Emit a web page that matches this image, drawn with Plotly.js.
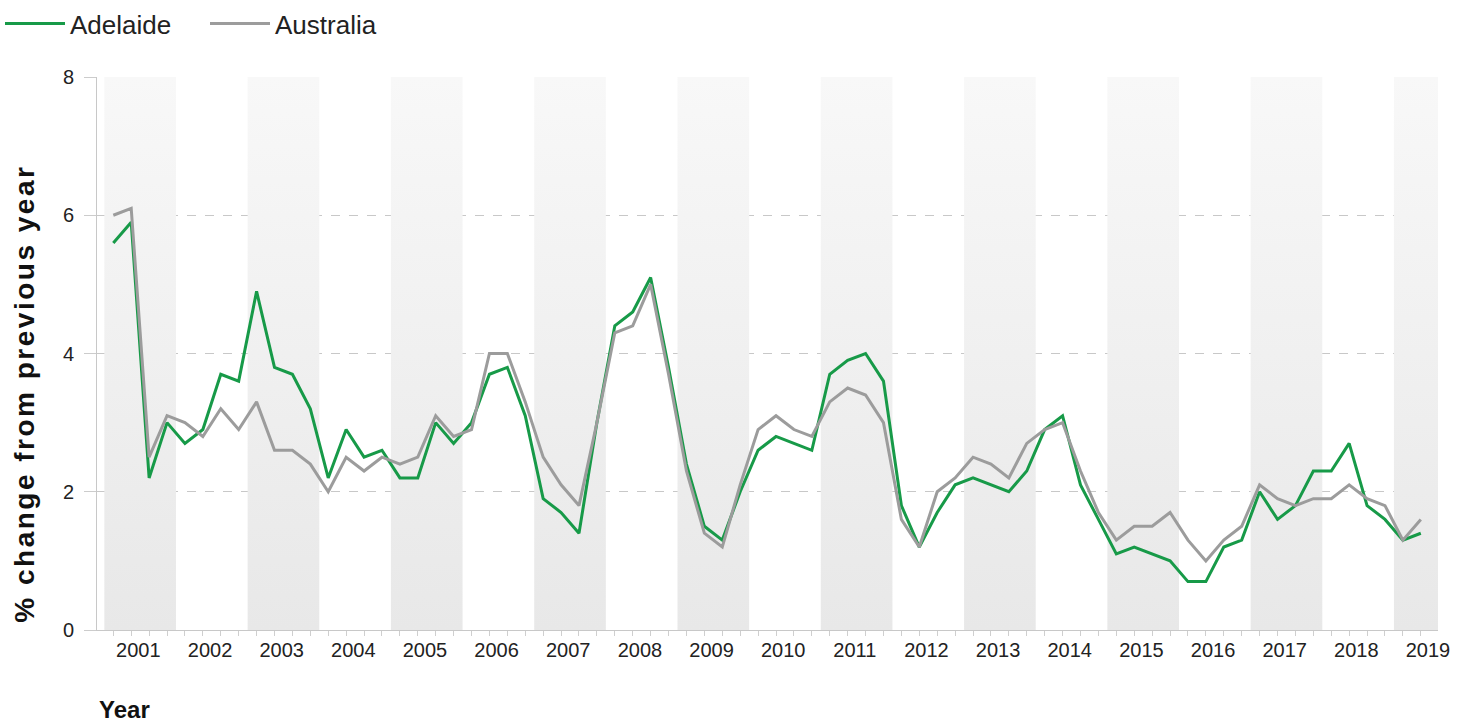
<!DOCTYPE html>
<html>
<head>
<meta charset="utf-8">
<script src="https://cdn.plot.ly/plotly-3.0.1.min.js"></script>
<style>
html,body{margin:0;padding:0;background:#fff;}
#chart{width:1471px;height:722px;}
</style>
</head>
<body>
<div id="chart"></div>
<script>
// Year labels (calendar years, quarterly data Mar 2001 - Jun 2019)
const years = ['2001','2002','2003','2004','2005','2006','2007','2008','2009','2010',
               '2011','2012','2013','2014','2015','2016','2017','2018','2019'];

// Annual % change in CPI, quarterly observations
const adelaide = [
  5.6, 5.9, 2.2, 3.0,
  2.7, 2.9, 3.7, 3.6,
  4.9, 3.8, 3.7, 3.2,
  2.2, 2.9, 2.5, 2.6,
  2.2, 2.2, 3.0, 2.7,
  3.0, 3.7, 3.8, 3.1,
  1.9, 1.7, 1.4, 3.0,
  4.4, 4.6, 5.1, 3.8,
  2.4, 1.5, 1.3, 2.0,
  2.6, 2.8, 2.7, 2.6,
  3.7, 3.9, 4.0, 3.6,
  1.8, 1.2, 1.7, 2.1,
  2.2, 2.1, 2.0, 2.3,
  2.9, 3.1, 2.1, 1.6,
  1.1, 1.2, 1.1, 1.0,
  0.7, 0.7, 1.2, 1.3,
  2.0, 1.6, 1.8, 2.3,
  2.3, 2.7, 1.8, 1.6,
  1.3, 1.4
];
const australia = [
  6.0, 6.1, 2.5, 3.1,
  3.0, 2.8, 3.2, 2.9,
  3.3, 2.6, 2.6, 2.4,
  2.0, 2.5, 2.3, 2.5,
  2.4, 2.5, 3.1, 2.8,
  2.9, 4.0, 4.0, 3.3,
  2.5, 2.1, 1.8, 3.0,
  4.3, 4.4, 5.0, 3.7,
  2.3, 1.4, 1.2, 2.1,
  2.9, 3.1, 2.9, 2.8,
  3.3, 3.5, 3.4, 3.0,
  1.6, 1.2, 2.0, 2.2,
  2.5, 2.4, 2.2, 2.7,
  2.9, 3.0, 2.3, 1.7,
  1.3, 1.5, 1.5, 1.7,
  1.3, 1.0, 1.3, 1.5,
  2.1, 1.9, 1.8, 1.9,
  1.9, 2.1, 1.9, 1.8,
  1.3, 1.6
];
const seriesNames = ['Adelaide', 'Australia'];
const yTitle = '% change from previous year';
const xTitle = 'Year';

const QPY = 4; // quarters per year
const xIdx = adelaide.map((_, i) => i);

// alternating year bands (shaded: 2001, 2003, ...)
const bandX = [], bandY = [];
years.forEach((y, i) => {
  if (i % 2 === 0) {
    const x0 = i * QPY - 0.5, x1 = x0 + QPY;
    bandX.push(x0, x1, x1, x0, x0, null);
    bandY.push(0, 0, 8, 8, 0, null);
  }
});

const FONT = '"Liberation Sans", Arial, sans-serif';

const traces = [
  {
    x: bandX, y: bandY, type: 'scatter', mode: 'none',
    fill: 'toself',
    fillgradient: {type: 'vertical', colorscale: [[0, '#e8e8e8'], [1, '#f8f8f8']]},
    hoverinfo: 'skip', showlegend: false
  },
  {
    x: xIdx, y: adelaide, type: 'scatter', mode: 'lines', name: seriesNames[0],
    line: {color: '#179a48', width: 3}
  },
  {
    x: xIdx, y: australia, type: 'scatter', mode: 'lines', name: seriesNames[1],
    line: {color: '#9c9c9c', width: 3}
  }
];

const layout = {
  width: 1471, height: 722,
  margin: {l: 97, r: 33, t: 77, b: 92},
  paper_bgcolor: '#ffffff', plot_bgcolor: '#ffffff',
  font: {family: FONT, color: '#222222', size: 20},
  showlegend: true,
  legend: {
    orientation: 'h', xref: 'container', yref: 'container',
    x: 0.0, y: 1.0, xanchor: 'left', yanchor: 'top',
    font: {size: 26, color: '#222222', family: FONT},
    bgcolor: 'rgba(0,0,0,0)', itemwidth: 60,
    entrywidth: 130, entrywidthmode: 'pixels', tracegroupgap: 0
  },
  xaxis: {
    range: [-0.91, 73.96],
    tickmode: 'array',
    tickvals: years.map((_, i) => i * QPY + 1.4),
    ticktext: years,
    ticks: 'outside', ticklen: 2, tickcolor: 'rgba(0,0,0,0)',
    tickfont: {size: 20, color: '#222222', family: FONT},
    showgrid: false, zeroline: false,
    showline: true, linecolor: '#c8c8c8', linewidth: 1,
    minor: {tick0: 0, dtick: 1, ticks: 'outside', ticklen: 5, tickcolor: '#cfcfcf', showgrid: false},
    fixedrange: true
  },
  yaxis: {
    range: [0, 8], dtick: 2, tick0: 0,
    ticks: 'outside', ticklen: 12, tickcolor: '#cccccc',
    ticklabelstandoff: 6,
    tickfont: {size: 20, color: '#222222', family: FONT},
    showgrid: true, gridcolor: '#c8c8c8', griddash: 'dash', gridwidth: 1,
    zeroline: false,
    showline: true, linecolor: '#c8c8c8', linewidth: 1,
    fixedrange: true
  },
  annotations: [
    {
      text: '<b>' + yTitle + '</b>', xref: 'paper', yref: 'paper',
      x: -0.0537, y: 0.4286, xanchor: 'center', yanchor: 'middle',
      textangle: -90, showarrow: false,
      font: {size: 28, color: '#111111', family: FONT}
    },
    {
      text: '<b>' + xTitle + '</b>', xref: 'paper', yref: 'paper',
      x: 0.0, y: -0.143, xanchor: 'left', yanchor: 'middle',
      showarrow: false,
      font: {size: 24, color: '#111111', family: FONT}
    }
  ]
};

Plotly.newPlot('chart', traces, layout, {displayModeBar: false, staticPlot: true}).then(gd => {
  // the reference's vertical axis title is set wider than plain bold Arial
  const t = gd.querySelectorAll('.annotation-text')[0];
  if (t) t.style.letterSpacing = '2.5px';
});
</script>
</body>
</html>
